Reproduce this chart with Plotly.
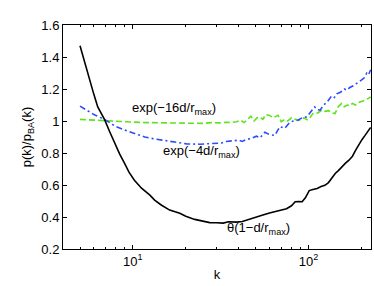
import plotly.graph_objects as go
import numpy as np

# theta(1-d/rmax) curve (black)
k_theta = [5, 5.3, 5.66, 6.0, 6.31, 6.89, 7.4, 7.87, 8.4, 8.97, 9.5, 10.2, 11.2, 12.5, 13.3, 14.5, 16.2,
           18.5, 20, 22.5, 25, 27.4, 29.9, 32.7, 35, 38.9, 42, 46.3, 50, 55, 60, 65, 70, 75, 80, 84, 88,
           92, 96, 101, 106, 112, 118, 124, 130, 136, 142, 148, 155, 162, 170, 178, 186, 194, 202, 210,
           218, 226]
v_theta = [1.47, 1.37, 1.255, 1.165, 1.088, 1.01, 0.93, 0.86, 0.795, 0.735, 0.68, 0.63, 0.58, 0.537,
           0.506, 0.475, 0.443, 0.423, 0.405, 0.385, 0.372, 0.365, 0.364, 0.362, 0.37, 0.368, 0.372,
           0.385, 0.395, 0.412, 0.425, 0.435, 0.44, 0.452, 0.47, 0.495, 0.496, 0.495, 0.52, 0.565, 0.572,
           0.578, 0.59, 0.598, 0.615, 0.645, 0.672, 0.69, 0.714, 0.735, 0.755, 0.78, 0.82, 0.855, 0.885,
           0.91, 0.935, 0.96]

# exp(-4d/rmax) curve (blue)
k_exp4 = [5, 6, 6.89, 8, 9, 10.5, 11.7, 13, 15, 17.3, 20.2, 24, 28.6, 32, 34, 37.2, 40, 42, 44.4, 47,
          50.5, 53, 56.4, 60, 64.3, 68.7, 73.4, 78, 81.8, 87, 92, 97.7, 103, 108.5, 113, 116.5, 122, 128,
          134, 139, 145, 152, 160, 166, 172, 180, 188, 195, 200, 208, 215, 220, 226]
v_exp4 = [1.093, 1.04, 1.01, 0.965, 0.943, 0.92, 0.90, 0.89, 0.878, 0.87, 0.857, 0.855, 0.86, 0.862,
          0.872, 0.875, 0.88, 0.872, 0.885, 0.89, 0.905, 0.895, 0.93, 0.915, 0.91, 0.965, 0.955, 0.99,
          1.0, 1.005, 1.02, 1.026, 1.06, 1.088, 1.07, 1.068, 1.1, 1.12, 1.15, 1.14, 1.17, 1.18, 1.2,
          1.193, 1.21, 1.22, 1.235, 1.25, 1.255, 1.27, 1.3, 1.29, 1.32]

# exp(-16d/rmax) curve (green)
k_exp16 = [5, 7, 8.4, 10, 12, 15, 18, 22, 25, 28, 31, 34, 36, 38.9, 41, 43, 45, 47, 49, 51, 52.7, 55,
           57, 60, 63, 67, 70, 73, 76, 80, 84, 89, 94, 99.5, 106, 113, 119, 124, 130, 137, 141.6, 148,
           154.6, 160, 166, 172, 178, 185, 192, 200, 210, 218, 226]
v_exp16 = [1.01, 1.0, 0.995, 0.993, 0.99, 0.988, 0.987, 0.985, 0.985, 0.99, 0.988, 0.992, 0.99, 0.995,
           1.005, 0.99, 1.01, 1.03, 1.0, 1.02, 1.026, 1.01, 1.04, 1.035, 1.02, 1.036, 0.995, 1.01, 1.0,
           1.02, 1.01, 1.005, 1.02, 1.005, 1.047, 1.05, 1.068, 1.06, 1.065, 1.05, 1.047, 1.09, 1.11,
           1.09, 1.1, 1.095, 1.11, 1.1, 1.115, 1.12, 1.13, 1.14, 1.15]

y_ticks = [0.2, 0.4, 0.6, 0.8, 1.0, 1.2, 1.4, 1.6]
y_ticktext = ["0.2", "0.4", "0.6", "0.8", "1", "1.2", "1.4", "1.6"]
x_ticks = [10, 100]
x_ticktext = ["10<sup>1</sup>", "10<sup>2</sup>"]
x_minor = [4, 5, 6, 7, 8, 9, 20, 30, 40, 50, 60, 70, 80, 90, 200]

FONT = "Liberation Sans, Arial, Helvetica, sans-serif"

fig = go.Figure()
fig.add_trace(go.Scatter(x=k_exp16, y=v_exp16, mode="lines",
                         line=dict(color="#5ee31a", width=1.6, dash="6px,3px")))
fig.add_trace(go.Scatter(x=k_exp4, y=v_exp4, mode="lines",
                         line=dict(color="#2b4cff", width=1.6, dash="6px,3px,2px,3px")))
fig.add_trace(go.Scatter(x=k_theta, y=v_theta, mode="lines",
                         line=dict(color="black", width=1.6)))

axis_common = dict(showgrid=False, zeroline=False, showline=True, linecolor="black", linewidth=1,
                   mirror="ticks", ticks="inside", tickcolor="black", ticklen=4,
                   tickfont=dict(family=FONT, size=13, color="black"))

fig.update_layout(
    width=374, height=286,
    margin=dict(l=63, r=3, t=25, b=37),
    paper_bgcolor="white", plot_bgcolor="white",
    showlegend=False,
    font=dict(family=FONT, size=13, color="black"),
    xaxis=dict(type="log", range=[np.log10(4), np.log10(227)],
               tickmode="array", tickvals=x_ticks, ticktext=x_ticktext,
               minor=dict(tickmode="array", tickvals=x_minor, ticks="inside", ticklen=2,
                          tickcolor="black", showgrid=False),
               title=dict(text="k", font=dict(family=FONT, size=13), standoff=2),
               **axis_common),
    yaxis=dict(range=[0.2, 1.6], tickmode="array", tickvals=y_ticks, ticktext=y_ticktext,
               title=dict(text="p(k)/p<sub>BA</sub>(k)", font=dict(family=FONT, size=13), standoff=6),
               **axis_common),
    annotations=[
        dict(x=np.log10(17.1), y=1.08, xref="x", yref="y", text="exp(−16d/r<sub>max</sub>)",
             showarrow=False, font=dict(family=FONT, size=13, color="black")),
        dict(x=np.log10(24.5), y=0.81, xref="x", yref="y", text="exp(−4d/r<sub>max</sub>)",
             showarrow=False, font=dict(family=FONT, size=13, color="black")),
        dict(x=np.log10(51.8), y=0.33, xref="x", yref="y", text="θ(1−d/r<sub>max</sub>)",
             showarrow=False, font=dict(family=FONT, size=13, color="black")),
    ],
)

fig.write_html("out.html", config={"displayModeBar": False},
               post_script="document.body.style.margin='0';document.body.style.overflow='hidden';")
